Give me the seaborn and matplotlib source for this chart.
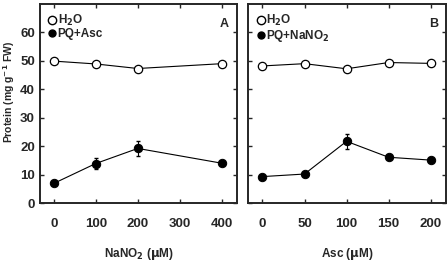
import numpy as np
import pandas as pd
import matplotlib
matplotlib.use('Agg')
import matplotlib.pyplot as plt
import seaborn as sns
from matplotlib.lines import Line2D

# panel A: NaNO2 series
nano2_conc = [0, 100, 200, 400]
a_h2o = [49.9, 48.9, 47.3, 49.0]
a_pq = [6.9, 13.9, 19.2, 14.0]
a_pq_err = [0.0, 2.0, 2.5, 0.0]

# panel B: Asc series
asc_conc = [0, 50, 100, 150, 200]
b_h2o = [48.2, 49.0, 47.2, 49.4, 49.1]
b_pq = [9.3, 10.2, 21.7, 16.1, 15.1]
b_pq_err = [0.0, 0.0, 2.6, 0.0, 0.0]

sns.set_style('ticks')
plt.rcParams['font.family'] = ['Liberation Sans', 'DejaVu Sans']
plt.rcParams['font.weight'] = 'bold'
plt.rcParams['axes.labelweight'] = 'bold'
plt.rcParams['mathtext.default'] = 'bf'

fig = plt.figure(figsize=(4.48, 2.62), dpi=100)
axA = fig.add_axes([0.089, 0.225, 0.44, 0.76])
axB = fig.add_axes([0.554, 0.225, 0.441, 0.76])


def draw_panel(ax, x, h2o, pq, err, pq_label, letter, xlabel, xticks, xlim):
    df = pd.DataFrame({'x': x, 'h2o': h2o, 'pq': pq})
    sns.lineplot(data=df, x='x', y='h2o', ax=ax, color='black', lw=0.8,
                 marker='o', markersize=6, markerfacecolor='white',
                 markeredgecolor='black', markeredgewidth=0.9)
    ax.errorbar(x, pq, yerr=err, fmt='none', ecolor='black', elinewidth=0.8, capsize=1.5)
    sns.lineplot(data=df, x='x', y='pq', ax=ax, color='black', lw=0.8,
                 marker='o', markersize=6, markerfacecolor='black',
                 markeredgecolor='black')
    ax.set_xlim(*xlim)
    ax.set_ylim(0, 70)
    ax.set_xticks(xticks)
    ax.set_yticks(range(0, 70, 10))
    ax.tick_params(direction='in', top=True, right=True, length=3, width=1,
                   labelsize=9.5)
    ax.tick_params(axis='x', pad=11)
    for s in ax.spines.values():
        s.set_linewidth(1.4)
    ax.set_xlabel(xlabel, fontsize=8.5, fontweight='bold', labelpad=11)
    ax.set_ylabel('')
    handles = [Line2D([], [], ls='none', marker='o', ms=6, mfc='white', mec='black'),
               Line2D([], [], ls='none', marker='o', ms=5, mfc='black', mec='black')]
    ax.legend(handles, ['H$_2$O', pq_label], loc='upper left', frameon=False,
              handlelength=0.5, handletextpad=0.2, borderaxespad=0.2,
              labelspacing=0.0, borderpad=0.6, prop={'size': 8.5, 'weight': 'bold'})
    ax.text(0.96, 0.9, letter, transform=ax.transAxes, ha='right', va='center',
            fontsize=9, fontweight='bold')


draw_panel(axA, nano2_conc, a_h2o, a_pq, a_pq_err, 'PQ+Asc', 'A',
           'NaNO$_2$ ($\\mu$M)', [0, 100, 200, 300, 400], (-33, 436))
draw_panel(axB, asc_conc, b_h2o, b_pq, b_pq_err, 'PQ+NaNO$_2$', 'B',
           'Asc ($\\mu$M)', [0, 50, 100, 150, 200], (-17, 218))
axA.set_ylabel('Protein (mg g$^{-1}$ FW)', fontsize=7.5, fontweight='bold')
axA.yaxis.set_label_coords(-0.115, 0.56)
axB.set_yticklabels([])

fig.savefig('out.png', dpi=100)
